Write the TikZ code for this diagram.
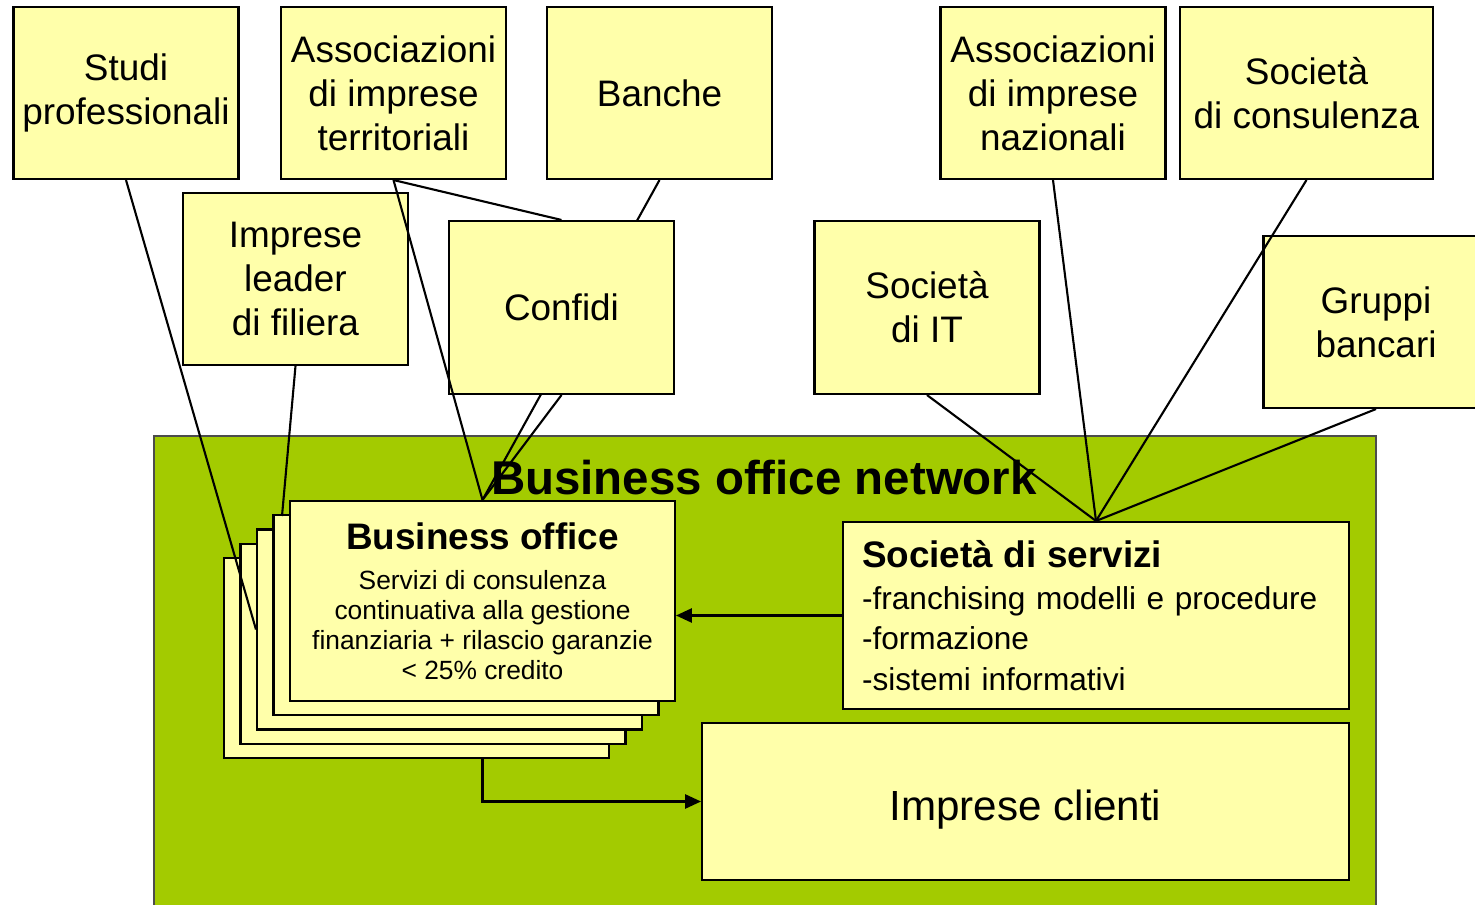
\documentclass[tikz,border=0pt]{standalone}
\usepackage{fontspec}
\setmainfont{Liberation Sans}
\usetikzlibrary{arrows.meta}
\definecolor{boxyellow}{HTML}{FFFFAA}
\definecolor{netgreen}{HTML}{A3CB00}

\begin{document}
\begin{tikzpicture}[x=0.02cm, y=-0.02cm, line width=1.2pt]

        \tikzset{box/.style = {draw, fill=boxyellow, line width=1.2pt, align=center, inner sep=0pt, minimum width=4.5cm, minimum height=3.44cm, font=\fontsize{21}{25}\selectfont}}
        \tikzset{card/.style = {box, minimum width=7.7cm, minimum height=4cm, font=\fontsize{15}{17}\selectfont}}
        \tikzset{edge/.style = {line width=1.2pt}}
        \tikzset{arrow/.style = {edge, -{Triangle[length=9pt,width=8pt]}}}

        \useasboundingbox (0,0) rectangle (1475,905);

        % network area
        \filldraw[fill=netgreen, draw=black!70] (154,436) rectangle (1376,920);
        \node[font=\fontsize{27}{32}\selectfont\bfseries] (title) at (764,478) {Business office network};

        % stack of business offices
        \node[card] (c1) at (416.5,658) {};
        \node[card] (c2) at (433,643.75) {};
        \node[card] (c3) at (449.5,629.5) {};
        \node[card] (c4) at (466,615.25) {};
        \node[card] (bo) at (482.5,601) {{\fontsize{21}{25}\selectfont\bfseries Business office}\\[6pt]
            Servizi di consulenza\\continuativa alla gestione\\finanziaria + rilascio garanzie\\< 25\% credito};

        \node[box] (studi) at (126,93) {Studi\\professionali};
        \node[box] (assterr) at (393.5,93) {Associazioni\\di imprese\\territoriali};
        \node[box] (banche) at (659.5,93) {Banche};
        \node[box] (assnaz) at (1053,93) {Associazioni\\di imprese\\nazionali};
        \node[box, minimum width=5.06cm] (soccons) at (1306.5,93) {Società\\di consulenza};
        \node[box] (leader) at (295.5,279) {Imprese\\leader\\di filiera};
        \node[box, minimum height=3.46cm] (socit) at (927,307.5) {Società\\di IT};
        \node[box] (gruppi) at (1376,322) {Gruppi\\bancari};

        \node[box, minimum width=10.12cm, minimum height=3.74cm, text width=9.36cm, inner xsep=0.38cm, align=left, font=\fontsize{18}{23}\selectfont] (servizi) at (1096,615.5)
            {{\fontsize{21}{25}\selectfont\bfseries Società di servizi}\\[1pt]
            -franchising modelli e procedure\\-formazione\\-sistemi informativi};
        \node[box, minimum width=12.94cm, minimum height=3.14cm, font=\fontsize{24}{29}\selectfont, text height=21.8pt, text depth=0pt] (clienti) at (1025.5,801.5) {Imprese clienti};

        \draw[edge] (banche.south) to (bo.north);
        \node[box, minimum height=3.46cm] (confidi) at (561.5,307.5) {Confidi};

        \coordinate (lf) at (282,516);
        \draw[edge] (studi.south) to (c3.west);
        \draw[edge] (leader.south) to (lf);
        \draw[edge] (assterr.south) to (bo.north);
        \draw[edge] (assterr.south) to (confidi.north);
        \draw[edge] (confidi.south) to (bo.north);

        \draw[edge] (socit.south) to (servizi.north);
        \draw[edge] (assnaz.south) to (servizi.north);
        \draw[edge] (soccons.south) to (servizi.north);
        \draw[edge] (gruppi.south) to (servizi.north);

        \draw[arrow] (servizi.west) -- (servizi.west -| bo.east);
        \draw[arrow] (bo |- c1.south) |- (clienti.west);
\end{tikzpicture}
\end{document}
